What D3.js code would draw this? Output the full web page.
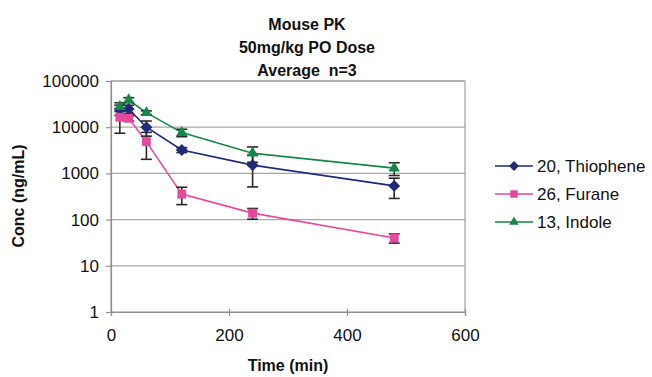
<!DOCTYPE html>
<html><head><meta charset="utf-8">
<script src="https://cdn.jsdelivr.net/npm/d3@7"></script>
<style>body{margin:0;background:#fff}svg{display:block}text{font-family:"Liberation Sans",Arial,sans-serif}</style>
</head><body><svg id="c" width="652" height="377"></svg>
<script>
const times = [15, 30, 60, 120, 240, 480];
const thiophene = [24000, 24800, 10000, 3220, 1510, 537];
const thiopheneSD = [6000, 5000, 3600, 400, 1000, 250];
const furane = [16400, 15600, 4870, 356, 138, 40];
const furaneSD = [9000, 2000, 2850, 145, 36, 9];
const indole = [27800, 38800, 20600, 7630, 2740, 1300];
const indoleSD = [6000, 4800, 2000, 1400, 1000, 400];
const seriesNames = ["20, Thiophene", "26, Furane", "13, Indole"];
const xTicks = [0, 200, 400, 600];
const yTicks = [1, 10, 100, 1000, 10000, 100000];
const titleLines = ["Mouse PK", "50mg/kg PO Dose", "Average  n=3"];

const series = [
  {name: seriesNames[0], v: thiophene, sd: thiopheneSD, color: "#1f2a78", shape: d3.symbolDiamond2, size: 90},
  {name: seriesNames[1], v: furane, sd: furaneSD, color: "#e5489c", shape: d3.symbolSquare2, size: 100},
  {name: seriesNames[2], v: indole, sd: indoleSD, color: "#16874a", shape: d3.symbolTriangle2, size: 95}
];

const svg = d3.select("#c");
const L = 111, R = 465, T = 81, B = 312;
const x = d3.scaleLinear().domain([0, 600]).range([L, R]);
const y = d3.scaleLog().domain([1, 100000]).range([B, T]);

// gridlines
svg.append("g").selectAll("line").data(yTicks.slice(1)).join("line")
  .attr("x1", L).attr("x2", R).attr("y1", d => y(d)).attr("y2", d => y(d))
  .attr("stroke", "#a8a8a8").attr("stroke-width", 1.2);
// border
svg.append("rect").attr("x", L).attr("y", T).attr("width", R - L).attr("height", B - T)
  .attr("fill", "none").attr("stroke", "#a0a0a0").attr("stroke-width", 1.2);

// axes
const fmt = d3.format("d");
const gy = svg.append("g").attr("transform", `translate(${L},0)`)
  .call(d3.axisLeft(y).tickValues(yTicks).tickFormat(fmt).tickSize(5).tickPadding(7));
const gx = svg.append("g").attr("transform", `translate(0,${B})`)
  .call(d3.axisBottom(x).tickValues(xTicks).tickFormat(fmt).tickSize(4).tickPadding(13));
[gx, gy].forEach(g => {
  g.select(".domain").attr("stroke", "#909090").attr("stroke-width", 1.2);
  g.selectAll(".tick line").attr("stroke", "#909090").attr("stroke-width", 1.2);
  g.selectAll(".tick text").attr("fill", "#111").style("font-size", "17px")
    .style("font-family", '"Liberation Sans",Arial,sans-serif');
});
gx.selectAll(".tick line").attr("y1", -3);

// lines
const line = d3.line().x((d, i) => x(times[i])).y(d => y(d));
series.forEach(s => {
  svg.append("path").datum(s.v).attr("d", line).attr("fill", "none")
    .attr("stroke", s.color).attr("stroke-width", 1.6);
});
// error bars
series.forEach(s => {
  const g = svg.append("g").attr("stroke", "#2a2a2a").attr("stroke-width", 1.6);
  s.v.forEach((v, i) => {
    const cx = x(times[i]), y1 = y(v + s.sd[i]), y2 = y(Math.max(v - s.sd[i], 1));
    g.append("line").attr("x1", cx).attr("x2", cx).attr("y1", y1).attr("y2", y2);
    g.append("line").attr("x1", cx - 5.5).attr("x2", cx + 5.5).attr("y1", y1).attr("y2", y1);
    g.append("line").attr("x1", cx - 5.5).attr("x2", cx + 5.5).attr("y1", y2).attr("y2", y2);
  });
});
// markers
series.forEach(s => {
  svg.append("g").selectAll("path").data(s.v).join("path")
    .attr("d", d3.symbol().type(s.shape).size(s.size))
    .attr("transform", (d, i) => `translate(${x(times[i])},${y(d)})`)
    .attr("fill", s.color);
});

// title
svg.append("text").attr("x", 307).attr("text-anchor", "middle")
  .style("font-size", "16px").style("font-weight", "bold").attr("fill", "#111")
  .selectAll("tspan").data(titleLines).join("tspan")
  .attr("x", 307).attr("y", (d, i) => 30 + i * 23).attr("xml:space", "preserve").text(d => d);

// axis titles
svg.append("text").attr("x", 288).attr("y", 371).attr("text-anchor", "middle")
  .style("font-size", "16px").style("font-weight", "bold").attr("fill", "#111").text("Time (min)");
svg.append("text").attr("transform", "translate(24,196) rotate(-90)").attr("text-anchor", "middle")
  .style("font-size", "16px").style("font-weight", "bold").attr("fill", "#111").text("Conc (ng/mL)");

// legend
const lg = svg.append("g");
series.forEach((s, i) => {
  const ly = 166 + i * 28;
  lg.append("line").attr("x1", 495).attr("x2", 533).attr("y1", ly).attr("y2", ly)
    .attr("stroke", s.color).attr("stroke-width", 1.6);
  lg.append("path").attr("d", d3.symbol().type(s.shape).size(s.size * 0.7))
    .attr("transform", `translate(514,${ly})`).attr("fill", s.color);
  lg.append("text").attr("x", 537).attr("y", ly + 6).style("font-size", "17px")
    .attr("fill", "#111").text(s.name);
});
</script></body></html>
